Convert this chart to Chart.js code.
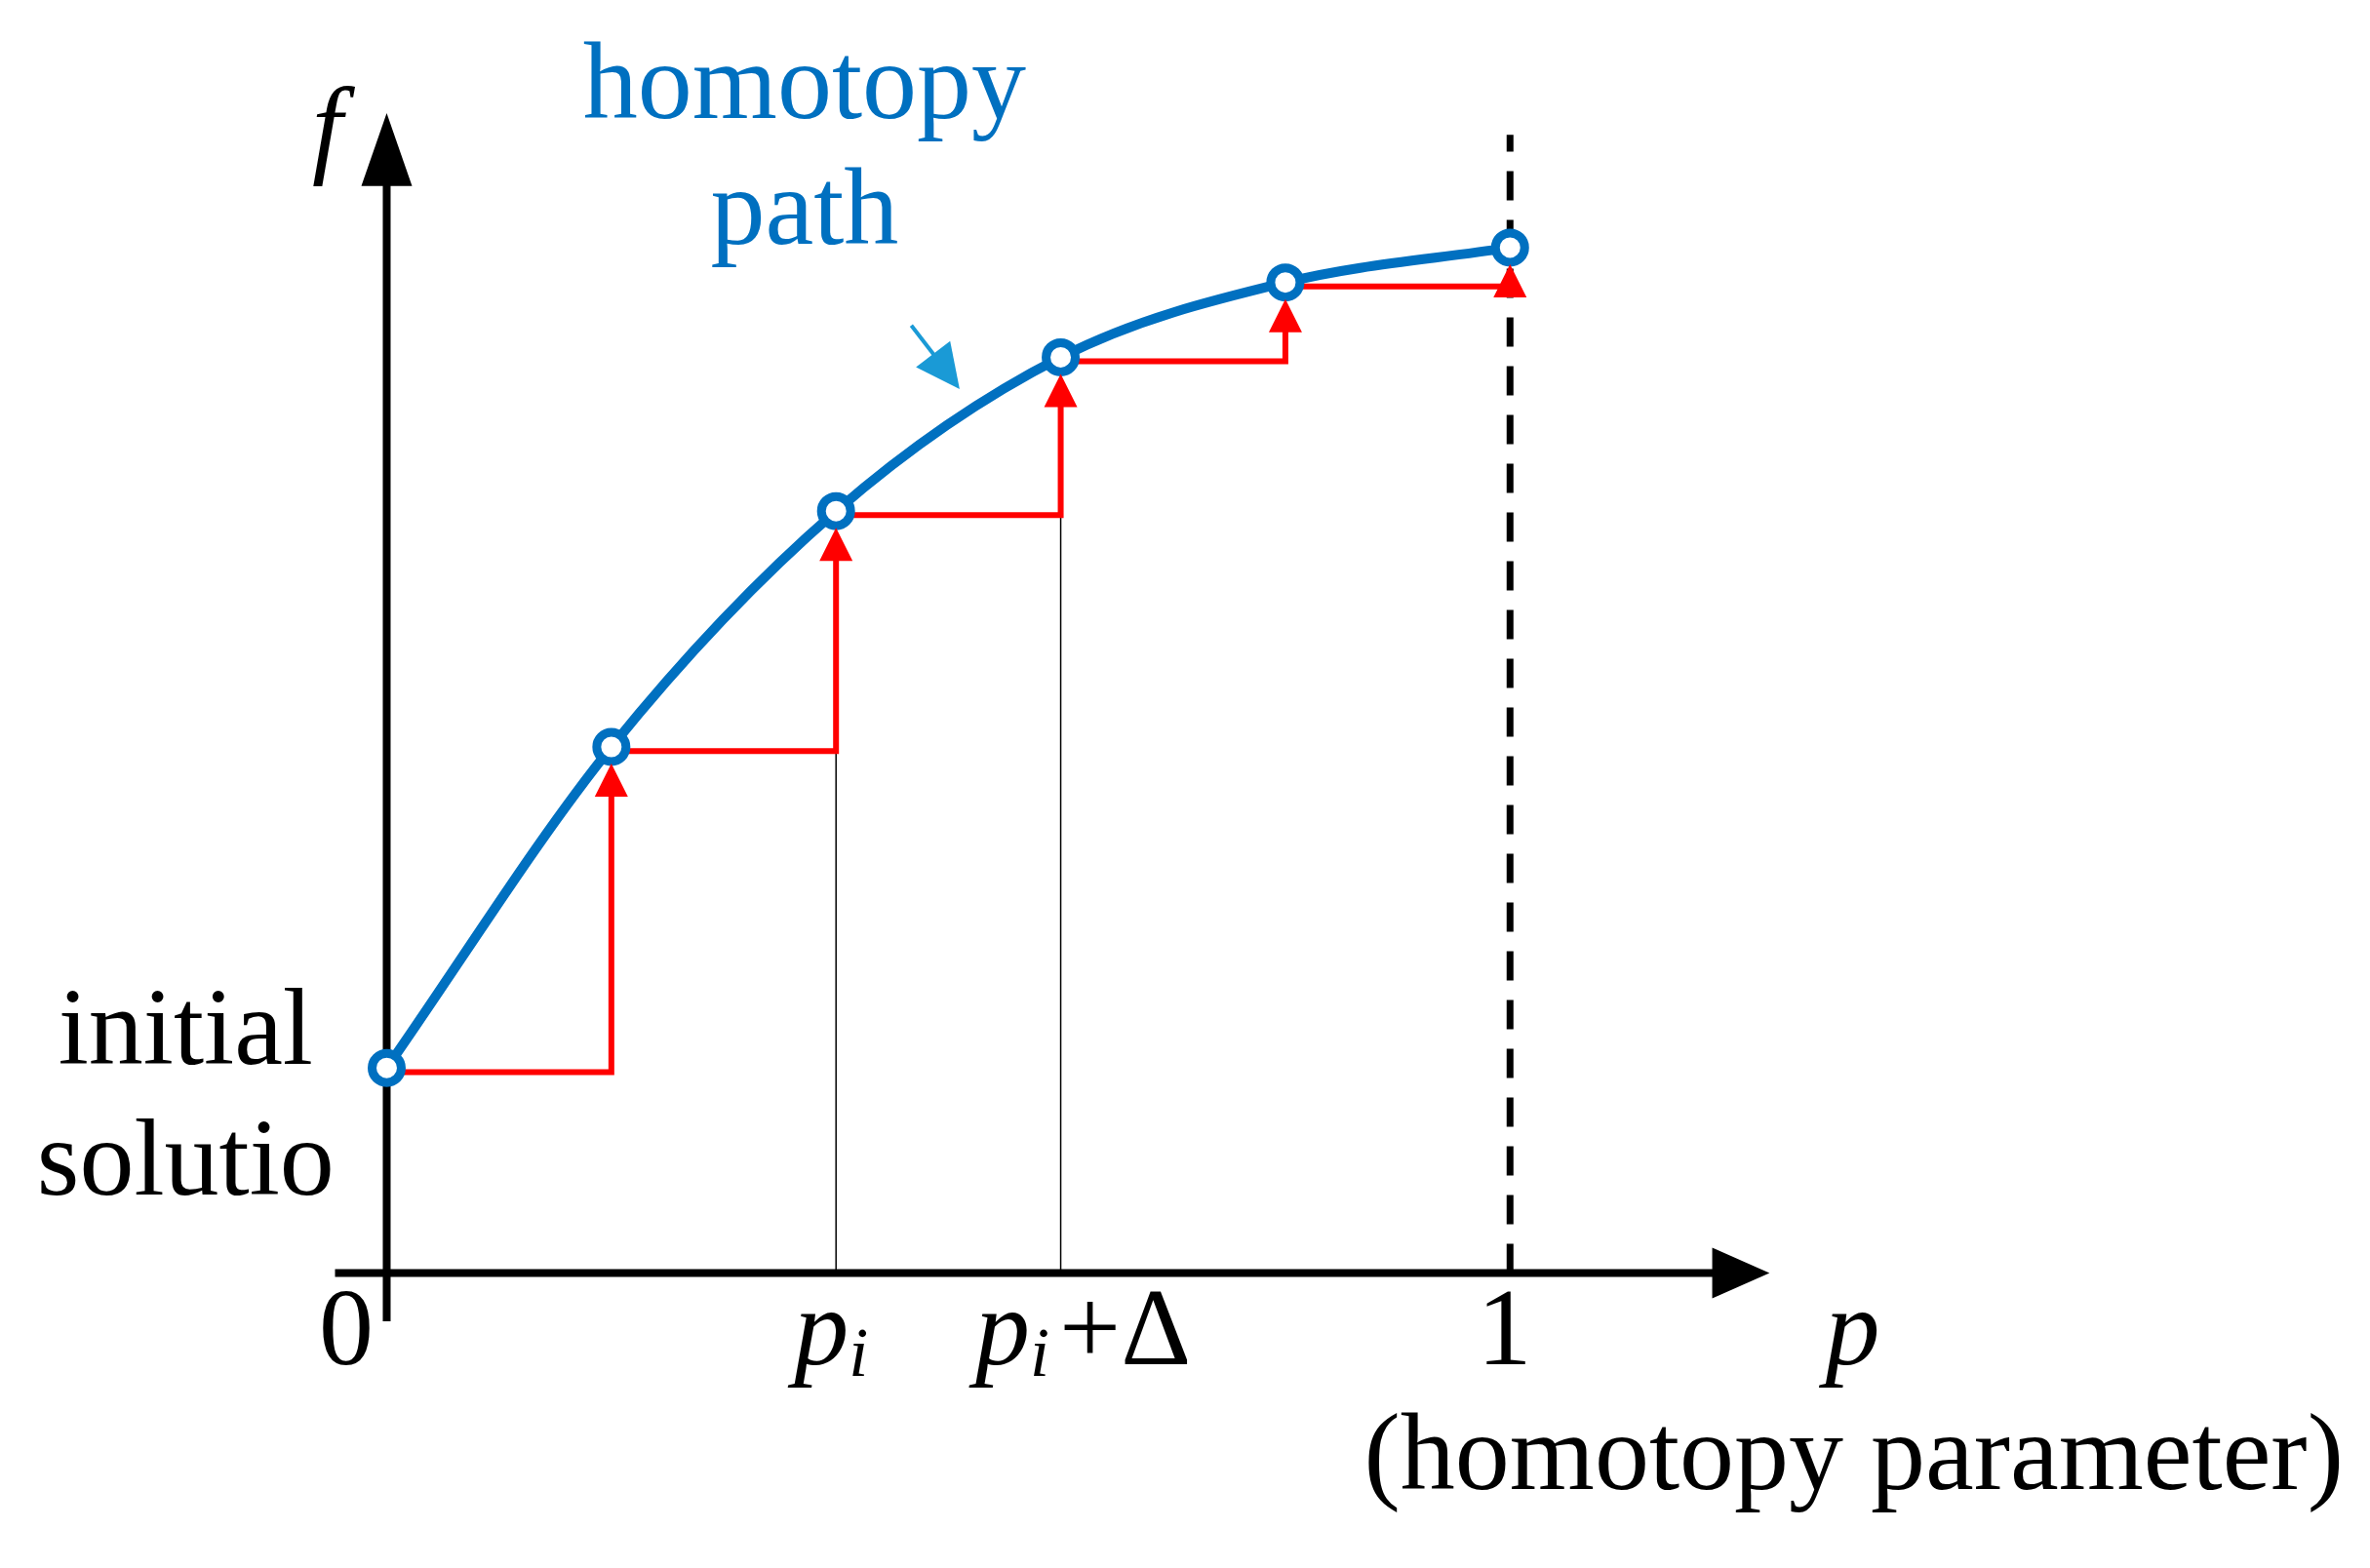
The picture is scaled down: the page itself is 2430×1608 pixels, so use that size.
<!DOCTYPE html>
<html><head><meta charset="utf-8">
<script src="https://cdn.jsdelivr.net/npm/chart.js@4"></script>
<style>html,body{margin:0;background:#fff}#w{width:2430px;height:1608px}</style>
</head><body><div id="w"><canvas id="c"></canvas></div>
<script>
const pValues = [0, 0.2, 0.4, 0.6, 0.8, 1.0];
const fValues = [0.2, 0.513, 0.743, 0.893, 0.966, 1.0];
const tickLabels = ["0", "pi", "pi+Δ", "1"];
const tickPositions = [0, 0.4, 0.6, 1];

const curve = pValues.map((p,i)=>({x:p,y:fValues[i]}));
const steps = [];
for (let i=0;i<pValues.length-1;i++){
  steps.push({x:pValues[i],y:fValues[i]-0.004});
  steps.push({x:pValues[i+1],y:fValues[i]-0.004});
  steps.push({x:pValues[i+1],y:fValues[i+1]-0.03});
  steps.push({x:NaN,y:NaN});
}

const BLUE='#0070c0', RED='#ff0000', FONT='"Liberation Serif", "DejaVu Serif", serif';
const FS=112;

const deco = {
  id:'deco',
  beforeDatasetsDraw(chart){
    const {ctx, scales:{x,y}} = chart;
    const X=v=>x.getPixelForValue(v), Y=v=>y.getPixelForValue(v);
    ctx.save();
    ctx.strokeStyle='#000'; ctx.fillStyle='#000';
    ctx.lineWidth=1.5;
    [[0.4,fValues[1]],[0.6,fValues[2]]].forEach(([p,f])=>{
      ctx.beginPath();ctx.moveTo(X(p),Y(0));ctx.lineTo(X(p),Y(f));ctx.stroke();});
    ctx.lineWidth=7; ctx.setLineDash([30,20]);
    ctx.beginPath();ctx.moveTo(X(1),Y(0));ctx.lineTo(X(1),Y(1.11));ctx.stroke();
    ctx.setLineDash([]);
    ctx.lineWidth=8;
    ctx.beginPath();ctx.moveTo(X(-0.046),Y(0));ctx.lineTo(X(1.19),Y(0));ctx.stroke();
    ctx.beginPath();ctx.moveTo(X(0),Y(-0.047));ctx.lineTo(X(0),Y(1.08));ctx.stroke();
    ctx.beginPath();ctx.moveTo(X(1.231),Y(0));ctx.lineTo(X(1.18),Y(0)-26);ctx.lineTo(X(1.18),Y(0)+26);ctx.closePath();ctx.fill();
    ctx.beginPath();ctx.moveTo(X(0),Y(1.131));ctx.lineTo(X(0)-26,Y(1.06));ctx.lineTo(X(0)+26,Y(1.06));ctx.closePath();ctx.fill();
    ctx.restore();
  },
  afterDatasetsDraw(chart){
    const {ctx, scales:{x,y}} = chart;
    const X=v=>x.getPixelForValue(v), Y=v=>y.getPixelForValue(v);
    ctx.save();
    ctx.fillStyle=RED;
    for(let i=1;i<pValues.length;i++){
      const px=X(pValues[i]), py=Y(fValues[i])+17;
      ctx.beginPath();ctx.moveTo(px,py);ctx.lineTo(px-17,py+34);ctx.lineTo(px+17,py+34);ctx.closePath();ctx.fill();
    }
    ctx.strokeStyle='#1a9ad6';ctx.fillStyle='#1a9ad6';ctx.lineWidth=4;
    const ax=X(0.467), ay=Y(0.924), bx=X(0.51), by=Y(0.862);
    ctx.beginPath();ctx.moveTo(ax,ay);ctx.lineTo(bx-10,by-14);ctx.stroke();
    const ang=Math.atan2(by-ay,bx-ax);
    ctx.beginPath();ctx.moveTo(bx,by);
    ctx.lineTo(bx-45*Math.cos(ang)+22*Math.sin(ang), by-45*Math.sin(ang)-22*Math.cos(ang));
    ctx.lineTo(bx-45*Math.cos(ang)-22*Math.sin(ang), by-45*Math.sin(ang)+22*Math.cos(ang));
    ctx.closePath();ctx.fill();
    ctx.textAlign='center';ctx.textBaseline='alphabetic';
    ctx.fillStyle=BLUE; ctx.font=FS+'px '+FONT;
    ctx.fillText('homotopy',X(0.372),Y(1.126));
    ctx.fillText('path',X(0.372),Y(1.004));
    ctx.fillStyle='#000';
    ctx.font='italic '+FS+'px '+FONT;
    ctx.fillText('f',X(-0.053),Y(1.083));
    ctx.fillText('p',X(1.305),Y(-0.089));
    ctx.font=FS+'px '+FONT;
    ctx.fillText('0',X(-0.036),Y(-0.089));
    ctx.fillText('1',X(0.995),Y(-0.089));
    ctx.fillText('(homotopy parameter)',X(1.306),Y(-0.211));
    ctx.fillText('initial',X(-0.179),Y(0.204));
    ctx.fillText('solutio',X(-0.179),Y(0.077));
    const sub=(xv,extra)=>{
      ctx.textAlign='left';
      ctx.font='italic '+FS+'px '+FONT;
      let cx=X(xv);
      const pw=ctx.measureText('p').width;
      ctx.font=FS+'px '+FONT;
      const ew=extra?ctx.measureText('+Δ').width:0;
      cx-= (pw+30+ew)/2;
      ctx.font='italic '+FS+'px '+FONT;
      ctx.fillText('p',cx,Y(-0.089)); cx+=pw;
      ctx.font='italic 72px '+FONT; ctx.fillText('i',cx,Y(-0.1)); cx+=30;
      if(extra){ctx.font=FS+'px '+FONT; ctx.fillText('+Δ',cx,Y(-0.089));}
    };
    sub(tickPositions[1],false); sub(tickPositions[2]+0.02,true);
    ctx.restore();
  }
};

new Chart(document.getElementById('c'),{
  type:'scatter',
  data:{datasets:[
    {data:curve, showLine:true, borderColor:BLUE, borderWidth:10, tension:0.4, cubicInterpolationMode:'monotone',
     pointRadius:15, pointBorderWidth:9, pointBackgroundColor:'#fff', pointBorderColor:BLUE, order:0},
    {data:steps, showLine:true, spanGaps:false, borderColor:RED, borderWidth:6, tension:0, pointRadius:0, order:1}
  ]},
  options:{responsive:true, maintainAspectRatio:false, animation:false,
    layout:{padding:0},
    plugins:{legend:{display:false},tooltip:{enabled:false}},
    scales:{x:{type:'linear',display:false,min:-0.3234,max:1.7447},
            y:{type:'linear',display:false,min:-0.2648,max:1.2186}}},
  plugins:[deco]
});
</script></body></html>
